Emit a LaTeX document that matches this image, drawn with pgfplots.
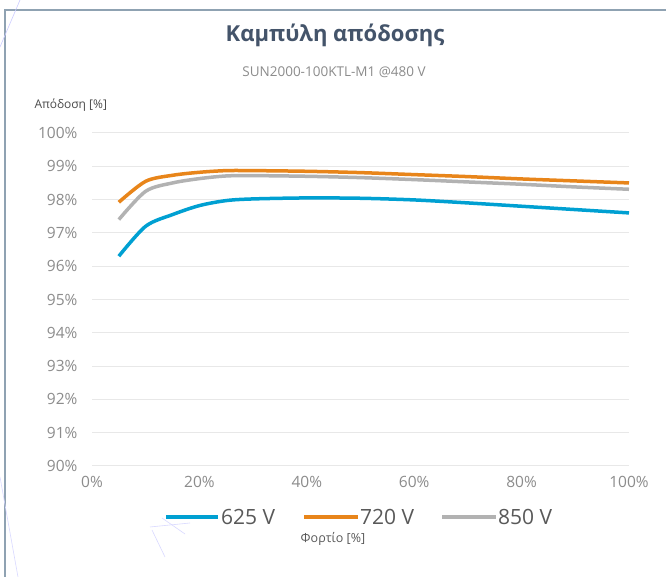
\documentclass[border=0pt]{standalone}
\usepackage{pgfplots}
\pgfplotsset{compat=1.18}
\usepackage{fontspec}
\setmainfont{Open Sans}
\definecolor{cblue}{HTML}{00A0D2}
\definecolor{corange}{HTML}{E8851A}
\definecolor{cgrey}{HTML}{B2B2B2}
\definecolor{ctitle}{HTML}{44546A}
\definecolor{ctick}{HTML}{8C8C8C}
\definecolor{cgrid}{HTML}{E8E8E8}
\definecolor{cframe}{HTML}{8FA2B2}
\begin{document}
\begin{tikzpicture}
\begin{scope}[x=1pt,y=1pt]
\useasboundingbox (0,0) rectangle (666,577);
\fill[white] (0,0) rectangle (666,577);
\draw[cframe,line width=1.8pt] (5,0) -- (5,567) -- (666,567);
\draw[blue!20,line width=0.6pt] (0,530) -- (20,577);
\draw[blue!15,line width=0.6pt] (0,100) -- (18,0);
\draw[blue!15,line width=0.6pt] (150,50) -- (190,54);
\draw[blue!15,line width=0.6pt] (162,59) -- (185,43);
\draw[blue!15,line width=0.6pt] (152,47) -- (165,20);
\end{scope}
\begin{axis}[
  at={(92pt,111pt)}, anchor=south west,
  scale only axis, width=537pt, height=333pt,
  xmin=0, xmax=100, ymin=90, ymax=100,
  xtick={0,20,...,100}, ytick={90,91,...,100},
  axis line style={draw=none},
  major tick length=0pt,
  ymajorgrids, grid style={cgrid, line width=1pt},
  /pgf/number format/assume math mode=true,
  xticklabel={\pgfmathprintnumber[fixed,precision=0]{\tick}\%},
  yticklabel={\pgfmathprintnumber[fixed,precision=0]{\tick}\%},
  ticklabel style={font=\fontsize{15.5}{17}\selectfont, text=ctick},
  yticklabel style={anchor=east, xshift=-11pt},
  xticklabel style={yshift=-7pt},
  clip=false,
]
\addplot[cblue, line width=3.5pt, smooth, tension=0.5] coordinates {
(5,96.3) (10,97.2) (15,97.55) (20,97.82) (25,97.97) (30,98.02) (40,98.05) (50,98.04) (60,97.99) (70,97.9) (80,97.8) (90,97.7) (100,97.6)};
\addplot[corange, line width=3.5pt, smooth, tension=0.5] coordinates {
(5,97.92) (10,98.55) (15,98.73) (20,98.82) (25,98.87) (30,98.87) (40,98.85) (50,98.81) (60,98.75) (70,98.69) (80,98.62) (90,98.56) (100,98.5)};
\addplot[cgrey, line width=3.5pt, smooth, tension=0.5] coordinates {
(5,97.4) (10,98.25) (15,98.5) (20,98.63) (25,98.71) (30,98.72) (40,98.7) (50,98.66) (60,98.6) (70,98.53) (80,98.46) (90,98.38) (100,98.31)};
\end{axis}
\begin{scope}[x=1pt,y=1pt]
\node[font=\fontsize{22}{26}\bfseries\selectfont, text=ctitle] at (335,542) {Καμπύλη απόδοσης};
\node[font=\fontsize{13.5}{16}\selectfont, text=ctick] at (334,505) {SUN2000-100KTL-M1 @480 V};
\node[font=\fontsize{12}{14}\selectfont, text=black!70, anchor=west] at (31,472) {Απόδοση [\%]};
\draw[cblue, line width=3.5pt] (166,60) -- (218,60);
\node[font=\fontsize{21}{24}\selectfont, text=black!65, anchor=west, inner sep=0pt] at (221,60) {625 V};
\draw[corange, line width=3.5pt] (304,60) -- (358,60);
\node[font=\fontsize{21}{24}\selectfont, text=black!65, anchor=west, inner sep=0pt] at (360,60) {720 V};
\draw[cgrey, line width=3.5pt] (442,60) -- (496,60);
\node[font=\fontsize{21}{24}\selectfont, text=black!65, anchor=west, inner sep=0pt] at (498,60) {850 V};
\node[font=\fontsize{12.5}{14}\selectfont, text=black!65] at (333,38) {Φορτίο [\%]};
\end{scope}
\end{tikzpicture}
\end{document}
